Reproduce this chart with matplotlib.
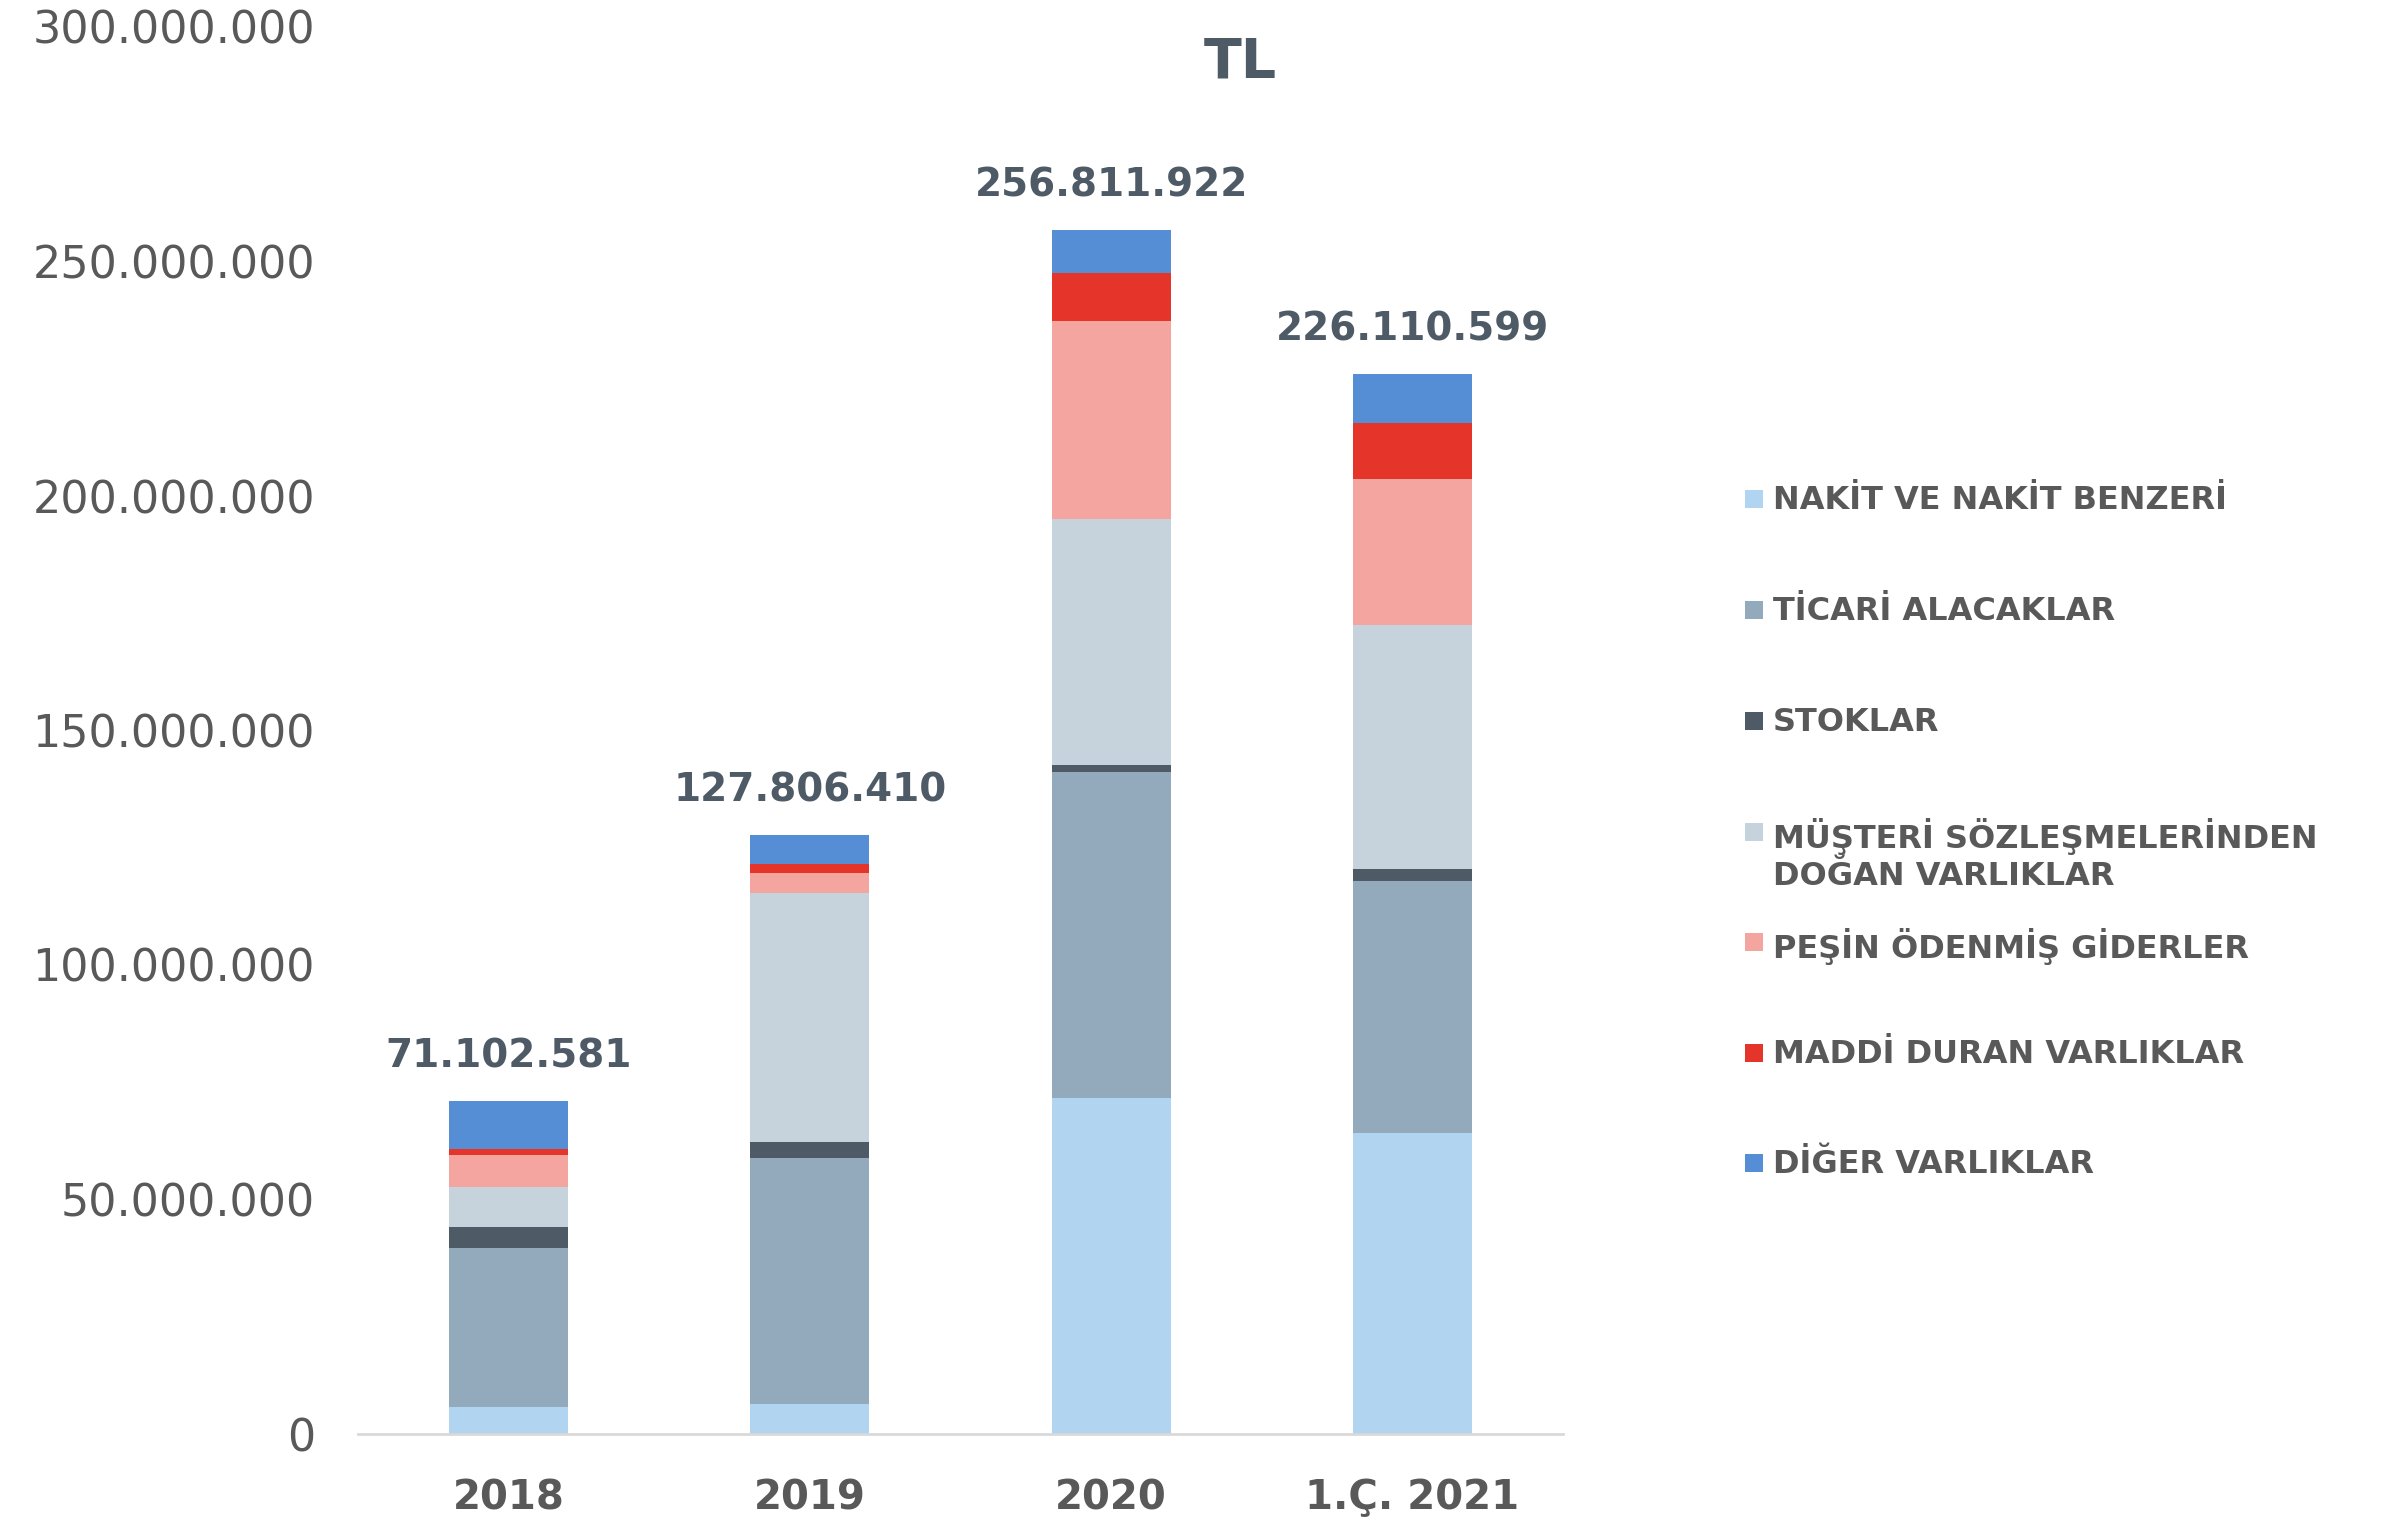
import numpy as np
import matplotlib.pyplot as plt
from matplotlib.patches import Rectangle
from matplotlib.ticker import FuncFormatter

W, H = 2386, 1526
DPI = 100

periods = ['2018', '2019', '2020', '1.Ç. 2021']
totals = [71102581, 127806410, 256811922, 226110599]

# milyon TL, grafikten okunan yaklaşık değerler
nakit = [5.7, 6.4, 71.6, 64.1]
ticari = [34.0, 52.5, 69.6, 53.8]
stoklar = [4.4, 3.4, 1.4, 2.5]
musteri = [8.6, 53.1, 52.5, 52.1]
pesin = [6.8, 4.3, 42.3, 31.1]
maddi = [1.3, 1.8, 10.1, 12.0]
diger = [10.3, 6.3, 9.3, 10.5]

series_labels = ['NAKİT VE NAKİT BENZERİ', 'TİCARİ ALACAKLAR', 'STOKLAR',
                 'MÜŞTERİ SÖZLEŞMELERİNDEN\nDOĞAN VARLIKLAR',
                 'PEŞİN ÖDENMİŞ GİDERLER', 'MADDİ DURAN VARLIKLAR', 'DİĞER VARLIKLAR']
colors = ['#B1D4F0', '#93A9BC', '#4E5B66', '#C6D3DD', '#F4A5A0', '#E5342A', '#558ED5']

text_gray = '#595959'
label_col = '#4E5B66'

fig = plt.figure(figsize=(W / DPI, H / DPI), dpi=DPI)
ax = fig.add_axes([358 / W, 1 - 1434 / H, (1563 - 358) / W, (1434 - 27) / H])

x = np.arange(len(periods))
bottom = np.zeros(len(periods))
for vals, col in zip([nakit, ticari, stoklar, musteri, pesin, maddi, diger], colors):
    v = np.array(vals) * 1e6
    ax.bar(x, v, 0.395, bottom=bottom, color=col, linewidth=0)
    bottom += v

for xi, top, tot in zip(x, bottom, totals):
    ax.annotate(f'{tot:,}'.replace(',', '.'), (xi, top), xytext=(0, 18),
                textcoords='offset points', ha='center', va='bottom',
                fontsize=28, fontweight='bold', color=label_col)

ax.set_xlim(-0.5, 3.5)
ax.set_ylim(0, 300e6)
ax.set_yticks(np.arange(0, 300e6 + 1, 50e6))
ax.yaxis.set_major_formatter(FuncFormatter(lambda v, p: f'{int(v):,}'.replace(',', '.')))
ax.set_xticks(x)
ax.set_xticklabels(periods, fontsize=29, fontweight='bold', color=text_gray)
ax.tick_params(axis='y', length=0, pad=31, labelsize=32, labelcolor=text_gray)
ax.tick_params(axis='x', length=0, pad=32)
for s in ['top', 'right', 'left']:
    ax.spines[s].set_visible(False)
ax.spines['bottom'].set_color('#D9D9D9')
ax.spines['bottom'].set_linewidth(2)

fig.text(1240 / W, 1 - 62 / H, 'TL', ha='center', va='center',
         fontsize=40, fontweight='bold', color=label_col)

# legend
leg_y = [499, 610, 721, 832, 942, 1053, 1163]
for yy, lab, col in zip(leg_y, series_labels, colors):
    fig.add_artist(Rectangle((1745 / W, 1 - (yy + 9) / H), 18 / W, 18 / H,
                             transform=fig.transFigure, color=col, linewidth=0))
    fig.text(1773 / W, 1 - (yy - 14) / H, lab, ha='left', va='top',
             fontsize=23, fontweight='bold', color=text_gray, linespacing=1.25)

fig.savefig('out.png', dpi=DPI)
